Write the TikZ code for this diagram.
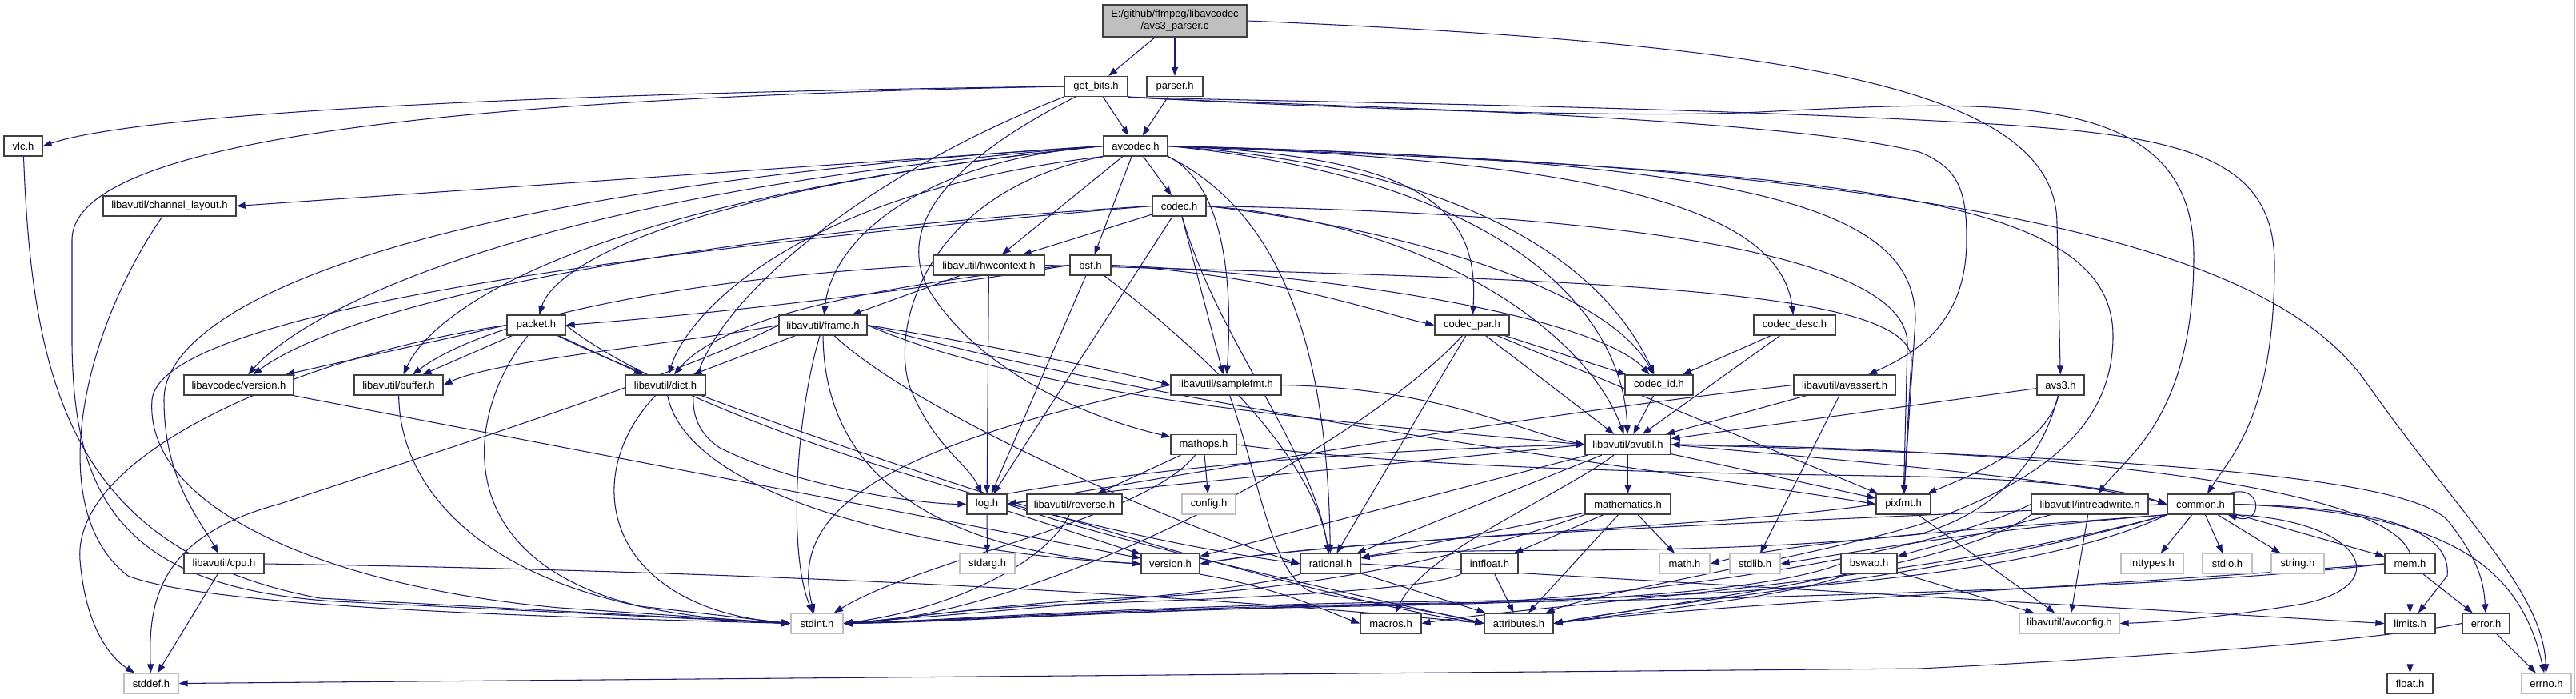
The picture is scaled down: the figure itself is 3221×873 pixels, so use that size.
\documentclass[tikz,border=0pt]{standalone}
\usepackage{fontspec}
\setmainfont{Liberation Sans}
\usetikzlibrary{arrows.meta}
\definecolor{edgec}{HTML}{191970}
\definecolor{titlefill}{HTML}{BFBFBF}
\definecolor{gborder}{HTML}{BFBFBF}
\pgfdeclarelayer{bg}
\pgfsetlayers{bg,main}
\newcommand{\nodefont}{\fontsize{13}{15}\selectfont}
\tikzset{
  box/.style={draw=black!75, line width=1.3pt, fill=white, minimum height=25pt, inner sep=0pt, font=\nodefont, text=black},
  gbox/.style={box, draw=gborder},
  e/.style={draw=edgec, line width=1.05pt, -{Triangle[length=11pt,width=8pt]}, fill=none},
}
\begin{document}
\begin{tikzpicture}[x=1pt,y=-1pt]
\useasboundingbox (0,0) rectangle (3221,873);

% row 0-1
\node[box, minimum width=180pt, minimum height=40pt, fill=titlefill, align=center] (title) at (1469,26) {E:/github/ffmpeg/libavcodec\\/avs3\_parser.c};
\node[box, minimum width=79pt] (getbits) at (1370.5,108) {get\_bits.h};
\node[box, minimum width=70pt] (parser) at (1469,108) {parser.h};
% row 2
\node[box, minimum width=48pt] (vlc) at (29,182.5) {vlc.h};
\node[box, minimum width=80pt] (avcodec) at (1420,182.5) {avcodec.h};
% row 3
\node[box, minimum width=166pt] (chlayout) at (212,257.5) {libavutil/channel\_layout.h};
\node[box, minimum width=67pt] (codec) at (1474.5,257.5) {codec.h};
% row 4
\node[box, minimum width=139pt] (hwcontext) at (1236.5,331.5) {libavutil/hwcontext.h};
\node[box, minimum width=51pt] (bsf) at (1363.5,331.5) {bsf.h};
% row 5
\node[box, minimum width=73pt] (packet) at (670.5,406.5) {packet.h};
\node[box, minimum width=110pt] (frame) at (1029,406.5) {libavutil/frame.h};
\node[box, minimum width=93pt] (codecpar) at (1840.5,406.5) {codec\_par.h};
\node[box, minimum width=102pt] (codecdesc) at (2244,406.5) {codec\_desc.h};
% row 6
\node[box, minimum width=137pt] (lavcversion) at (298.5,481.5) {libavcodec/version.h};
\node[box, minimum width=111pt] (buffer) at (498.5,481.5) {libavutil/buffer.h};
\node[box, minimum width=100pt] (dict) at (832,481.5) {libavutil/dict.h};
\node[box, minimum width=138pt] (samplefmt) at (1533,481.5) {libavutil/samplefmt.h};
\node[box, minimum width=85pt] (codecid) at (2074.5,481.5) {codec\_id.h};
\node[box, minimum width=127pt] (avassert) at (2306.5,481.5) {libavutil/avassert.h};
\node[box, minimum width=59pt] (avs3) at (2576.5,481.5) {avs3.h};
% row 7
\node[box, minimum width=82pt] (mathops) at (1505,556) {mathops.h};
\node[box, minimum width=107pt] (avutil) at (2035.5,556) {libavutil/avutil.h};
% row 8
\node[box, minimum width=50pt] (log) at (1234,630.5) {log.h};
\node[box, minimum width=119pt] (reverse) at (1343.5,630.5) {libavutil/reverse.h};
\node[gbox, minimum width=67pt] (config) at (1511.5,630.5) {config.h};
\node[box, minimum width=107pt] (mathematics) at (2035.5,630.5) {mathematics.h};
\node[box, minimum width=68pt] (pixfmt) at (2380,630.5) {pixfmt.h};
\node[box, minimum width=146pt] (intreadwrite) at (2613,630.5) {libavutil/intreadwrite.h};
\node[box, minimum width=83pt] (common) at (2751.5,630.5) {common.h};
% row 9
\node[box, minimum width=100pt] (cpu) at (280,705) {libavutil/cpu.h};
\node[gbox, minimum width=69pt] (stdarg) at (1234.5,705) {stdarg.h};
\node[box, minimum width=73pt] (version) at (1463.5,705) {version.h};
\node[box, minimum width=75pt] (rational) at (1663.5,705) {rational.h};
\node[box, minimum width=71pt] (intfloat) at (1862.5,705) {intfloat.h};
\node[gbox, minimum width=63pt] (math) at (2106.5,705) {math.h};
\node[gbox, minimum width=63pt] (stdlib) at (2194.5,705) {stdlib.h};
\node[box, minimum width=70pt] (bswap) at (2337,705) {bswap.h};
\node[gbox, minimum width=78pt] (inttypes) at (2691,705) {inttypes.h};
\node[gbox, minimum width=62pt] (stdio) at (2785,705) {stdio.h};
\node[gbox, minimum width=66pt] (string) at (2873,705) {string.h};
\node[box, minimum width=63pt] (mem) at (3013.5,705) {mem.h};
% row 10
\node[gbox, minimum width=65pt] (stdint) at (1021.5,779.5) {stdint.h};
\node[box, minimum width=76pt] (macros) at (1739,779.5) {macros.h};
\node[box, minimum width=86pt] (attributes) at (1899,779.5) {attributes.h};
\node[gbox, minimum width=125pt] (avconfig) at (2587.5,779.5) {libavutil/avconfig.h};
\node[box, minimum width=63pt] (limits) at (3013.5,779.5) {limits.h};
\node[box, minimum width=59pt] (error) at (3108.5,779.5) {error.h};
% row 11
\node[gbox, minimum width=68pt] (stddef) at (189,854.5) {stddef.h};
\node[box, minimum width=57pt] (float) at (3013.5,854.5) {float.h};
\node[gbox, minimum width=62pt] (errno) at (3184,854.5) {errno.h};

\begin{pgfonlayer}{bg}
\fill[white] (0,0) rectangle (3221,873);
\draw[black!25, line width=1pt] (3219.5,0) -- (3219.5,873);
% title
\draw[e] (title) -- (getbits);
\draw[e] (title) -- (parser);
\draw[e] (title.east) .. controls (2250,55) and (2572,110) .. (2572,280) -- (avs3);
% get_bits.h
\draw[e] (getbits) -- (avcodec);
\draw[e] (getbits.west) .. controls (700,116) and (180,140) .. (vlc.east);
\draw[e] (getbits.west) .. controls (600,122) and (90,170) .. (90,300) -- (90,430) .. controls (92,620) and (150,735) .. (420,752) -- (stdint.west);
\draw[e] (getbits.south west) .. controls (1000,250) and (780,480) .. (900,560) .. controls (1000,610) and (1150,630) .. (log.west);
\draw[e] (getbits) .. controls (1150,220) and (1130,300) .. (1160,360) .. controls (1220,460) and (1350,520) .. (mathops);
\draw[e] (getbits.south east) .. controls (1520,130) and (2200,140) .. (2400,190) .. controls (2450,210) and (2459,240) .. (2459,300) .. controls (2459,400) and (2400,440) .. (avassert);
\draw[e] (getbits.south east) .. controls (1520,128) and (2000,150) .. (2200,140) .. controls (2500,125) and (2743,110) .. (2743,320) .. controls (2743,520) and (2660,570) .. (intreadwrite);
\draw[e] (getbits.south east) .. controls (1520,126) and (2000,130) .. (2400,150) .. controls (2700,165) and (2844,180) .. (2844,330) .. controls (2844,520) and (2790,570) .. (common);
% parser.h
\draw[e] (parser) -- (avcodec);
% avcodec.h
\draw[e] (avcodec) -- (codec);
\draw[e] (avcodec) -- (hwcontext);
\draw[e] (avcodec) -- (bsf);
\draw[e] (avcodec.west) -- (chlayout.east);
\draw[e] (avcodec.west) .. controls (650,240) and (380,390) .. (lavcversion);
\draw[e] (avcodec.west) .. controls (720,250) and (540,390) .. (buffer);
\draw[e] (avcodec.west) .. controls (520,235) and (205,380) .. (205,500) .. controls (205,600) and (250,650) .. (cpu);
\draw[e] (avcodec.west) .. controls (820,240) and (690,340) .. (packet);
\draw[e] (avcodec.south west) .. controls (1000,240) and (860,390) .. (dict);
\draw[e] (avcodec.west) .. controls (1150,200) and (1040,300) .. (frame);
\draw[e] (avcodec.south west) .. controls (1150,240) and (1110,420) .. (1140,490) .. controls (1170,560) and (1210,580) .. (log);
\draw[e] (avcodec.south east) .. controls (1530,230) and (1542,350) .. (samplefmt);
\draw[e] (avcodec.south east) .. controls (1610,270) and (1660,450) .. (rational);
\draw[e] (avcodec.east) .. controls (1780,195) and (1850,260) .. (codecpar);
\draw[e] (avcodec.east) .. controls (2000,200) and (2225,260) .. (codecdesc);
\draw[e] (avcodec.east) .. controls (1850,210) and (2010,340) .. (codecid);
\draw[e] (avcodec.east) .. controls (1900,225) and (2030,400) .. (avutil);
\draw[e] (avcodec.east) .. controls (2200,200) and (2395,260) .. (2395,400) -- (pixfmt);
\draw[e] (avcodec.east) .. controls (2300,215) and (2642,240) .. (2642,420) .. controls (2642,530) and (2560,600) .. (2400,656) .. controls (2250,700) and (2000,740) .. (attributes);
\draw[e] (avcodec.east) .. controls (2500,210) and (2850,320) .. (2960,480) .. controls (3080,650) and (3180,740) .. (errno);
% codec.h
\draw[e] (codec) -- (hwcontext);
\draw[e] (codec) -- (log);
\draw[e] (codec) -- (samplefmt);
\draw[e] (codec) .. controls (1520,420) and (1640,560) .. (rational);
\draw[e] (codec.east) .. controls (1800,280) and (1985,420) .. (avutil);
\draw[e] (codec.east) .. controls (2100,268) and (2385,330) .. (2385,430) -- (pixfmt);
\draw[e] (codec.east) .. controls (1750,285) and (2010,360) .. (codecid);
\draw[e] (codec.west) .. controls (900,290) and (450,370) .. (lavcversion);
\draw[e] (codec.west) .. controls (700,320) and (200,400) .. (190,500) .. controls (180,640) and (420,735) .. (700,760) -- (stdint.west);
% hwcontext.h
\draw[e] (hwcontext) -- (frame);
\draw[e] (hwcontext) -- (log);
\draw[e] (hwcontext.west) .. controls (900,345) and (620,390) .. (buffer);
\draw[e] (hwcontext.east) .. controls (2000,350) and (2390,360) .. (2390,450) -- (pixfmt);
% bsf.h
\draw[e] (bsf.west) .. controls (1150,362) and (900,392) .. (packet.east);
\draw[e] (bsf.west) .. controls (1080,358) and (900,400) .. (dict);
\draw[e] (bsf) -- (log);
\draw[e] (bsf) .. controls (1480,420) and (1640,560) .. (rational);
\draw[e] (bsf.east) .. controls (1700,345) and (2000,400) .. (codecid);
\draw[e] (bsf.east) .. controls (1600,345) and (1720,390) .. (codecpar.west);
% frame.h
\draw[e] (frame) .. controls (995,520) and (985,690) .. (stdint);
\draw[e] (frame) .. controls (1030,600) and (1180,690) .. (version.west);
\draw[e] (frame.west) .. controls (850,470) and (500,580) .. (350,630) .. controls (200,670) and (185,750) .. (stddef);
\draw[e] (frame.east) .. controls (1300,500) and (1700,530) .. (avutil.west);
\draw[e] (frame.west) .. controls (850,430) and (620,450) .. (buffer.east);
\draw[e] (frame) -- (dict);
\draw[e] (frame) .. controls (1150,520) and (1480,660) .. (rational.west);
\draw[e] (frame.east) .. controls (1200,425) and (1380,460) .. (samplefmt.west);
\draw[e] (frame.east) .. controls (1500,520) and (2100,590) .. (pixfmt.west);
% packet.h
\draw[e] (packet) -- (buffer);
\draw[e] (packet) -- (dict);
\draw[e] (packet.west) -- (lavcversion);
\draw[e] (packet.west) .. controls (400,440) and (90,560) .. (100,700) .. controls (108,800) and (150,830) .. (stddef);
\draw[e] (packet) .. controls (580,520) and (560,700) .. (800,758) -- (stdint.west);
\draw[e] (packet.east) .. controls (850,520) and (1300,660) .. (rational.west);
\draw[e] (packet) .. controls (900,520) and (1600,745) .. (attributes.west);
% codec_par.h
\draw[e] (codecpar) -- (codecid);
\draw[e] (codecpar) -- (avutil);
\draw[e] (codecpar) -- (pixfmt);
\draw[e] (codecpar) -- (rational);
\draw[e] (codecpar) .. controls (1700,560) and (1300,770) .. (stdint.east);
% codec_desc.h, codec_id.h
\draw[e] (codecdesc) -- (avutil);
\draw[e] (codecdesc) -- (codecid);
\draw[e] (codecid) -- (avutil);
% libavcodec/version.h, buffer, dict
\draw[e] (lavcversion) -- (version);
\draw[e] (buffer) .. controls (500,620) and (620,765) .. (stdint.west);
\draw[e] (dict) .. controls (720,600) and (760,760) .. (stdint.west);
\draw[e] (dict) .. controls (860,620) and (1150,690) .. (version.west);
% samplefmt.h
\draw[e] (samplefmt.east) .. controls (1800,485) and (1900,540) .. (avutil.west);
\draw[e] (samplefmt) .. controls (1575,600) and (1590,720) .. (1640,740) .. controls (1720,755) and (1800,765) .. (attributes.west);
\draw[e] (samplefmt.west) .. controls (1100,560) and (985,640) .. (stdint);
% avassert.h
\draw[e] (avassert) -- (stdlib);
\draw[e] (avassert) -- (avutil);
\draw[e] (avassert.west) .. controls (1900,520) and (1500,590) .. (log.east);
% avs3.h
\draw[e] (avs3) -- (avutil);
\draw[e] (avs3) .. controls (2560,560) and (2450,600) .. (pixfmt);
\draw[e] (avs3) .. controls (2555,570) and (2500,640) .. (2400,668) .. controls (2100,700) and (1800,680) .. (rational);
% cpu.h
\draw[e] (cpu) -- (stddef);
\draw[e] (cpu.east) .. controls (1000,715) and (1500,745) .. (attributes.west);
% channel_layout.h, vlc.h
\draw[e] (chlayout) .. controls (100,420) and (55,640) .. (160,720) .. controls (260,760) and (700,772) .. (stdint.west);
\draw[e] (vlc) .. controls (40,480) and (90,690) .. (400,748) -- (stdint.west);
% mathops.h
\draw[e] (mathops) -- (config);
\draw[e] (mathops) -- (reverse);
\draw[e] (mathops) .. controls (1430,650) and (1150,700) .. (stdint);
\draw[e] (mathops.east) .. controls (1800,590) and (2200,592) .. (2400,596) .. controls (2550,600) and (2650,610) .. (common.west);
% avutil.h
\draw[e] (avutil) -- (mathematics);
\draw[e] (avutil) -- (pixfmt);
\draw[e] (avutil.west) .. controls (1700,585) and (1400,610) .. (log.east);
\draw[e] (avutil) -- (rational);
\draw[e] (avutil) -- (version);
\draw[e] (avutil) .. controls (1950,620) and (1780,690) .. (macros);
\draw[e] (avutil.east) .. controls (2300,575) and (2600,600) .. (common.west);
\draw[e] (avutil.east) .. controls (2600,570) and (3000,590) .. (3060,650) .. controls (3100,700) and (3106,730) .. (error);
% log.h
\draw[e] (log) -- (stdarg);
\draw[e] (log) -- (version);
\draw[e] (log.east) .. controls (1400,680) and (1700,745) .. (attributes.west);
\draw[e] (log.north east) .. controls (1500,575) and (1800,560) .. (avutil.west);
% common.h
\draw[e] (common) -- (inttypes);
\draw[e] (common) -- (stdio);
\draw[e] (common) -- (string);
\draw[e] (common) -- (mem);
\draw[e] (common.east) .. controls (3000,635) and (3065,670) .. (3060,720) -- (limits);
\draw[e] (common.east) .. controls (3050,640) and (3150,700) .. (errno);
\draw[e] (common.south east) .. controls (2950,650) and (3000,730) .. (2880,755) .. controls (2780,772) and (2700,778) .. (avconfig.east);
\draw[e] ([xshift=-8pt]common.north east) .. controls +(45,-15) and +(45,15) .. ([xshift=-8pt]common.south east);
\draw[e] (common.south west) .. controls (2500,660) and (2250,675) .. (math.east);
\draw[e] (common.south west) .. controls (2500,660) and (2350,685) .. (stdlib.east);
\draw[e] (common.south west) .. controls (2550,720) and (2200,748) .. (1800,752) .. controls (1400,758) and (1200,775) .. (stdint.east);
\draw[e] (common.south west) .. controls (2450,720) and (2100,750) .. (attributes.east);
\draw[e] (common.south west) .. controls (2400,730) and (1950,752) .. (macros.east);
\draw[e] (common.west) .. controls (2300,650) and (1700,670) .. (version.east);
% mem.h
\draw[e] (mem) -- (limits);
\draw[e] (mem) -- (error);
\draw[e] (mem.west) .. controls (2700,740) and (2000,752) .. (1800,754) .. controls (1400,760) and (1200,776) .. (stdint.east);
\draw[e] (mem.west) .. controls (2600,735) and (2150,755) .. (attributes.east);
\draw[e] (mem.north) .. controls (2980,600) and (2500,560) .. (avutil.east);
% error.h, limits.h
\draw[e] (error) -- (errno);
\draw[e] (error.west) .. controls (2950,805) and (2600,826) .. (2400,836) -- (stddef.east);
\draw[e] (limits) -- (float);
% intreadwrite.h
\draw[e] (intreadwrite) -- (avconfig);
\draw[e] (intreadwrite) -- (bswap);
\draw[e] (intreadwrite.south west) .. controls (2450,710) and (2100,752) .. (attributes.east);
\draw[e] (intreadwrite.west) .. controls (2400,700) and (2000,752) .. (1800,755) .. controls (1400,762) and (1200,777) .. (stdint.east);
% bswap.h
\draw[e] (bswap) -- (avconfig);
\draw[e] (bswap) .. controls (2250,745) and (2050,765) .. (attributes.east);
\draw[e] (bswap.west) .. controls (2200,745) and (1900,755) .. (1700,758) .. controls (1400,763) and (1200,778) .. (stdint.east);
% pixfmt.h
\draw[e] (pixfmt) -- (avconfig);
\draw[e] (pixfmt.west) .. controls (2150,660) and (1700,672) .. (version.east);
% mathematics.h
\draw[e] (mathematics) -- (math);
\draw[e] (mathematics) -- (attributes);
\draw[e] (mathematics) -- (intfloat);
\draw[e] (mathematics) -- (rational);
\draw[e] (mathematics.south west) .. controls (1850,690) and (1650,740) .. (1400,748) .. controls (1250,755) and (1150,772) .. (stdint.east);
% intfloat.h
\draw[e] (intfloat) -- (attributes);
\draw[e] (intfloat.south west) .. controls (1780,740) and (1500,750) .. (1350,755) .. controls (1200,760) and (1120,775) .. (stdint.east);
% rational.h
\draw[e] (rational) -- (attributes);
\draw[e] (rational.east) -- (limits.west);
\draw[e] (rational.south west) .. controls (1550,740) and (1300,760) .. (stdint.east);
% version.h, reverse.h
\draw[e] (version.south east) .. controls (1600,735) and (1660,765) .. (macros.west);
\draw[e] (reverse) .. controls (1310,700) and (1200,760) .. (stdint.east);
\end{pgfonlayer}
\end{tikzpicture}
\end{document}
